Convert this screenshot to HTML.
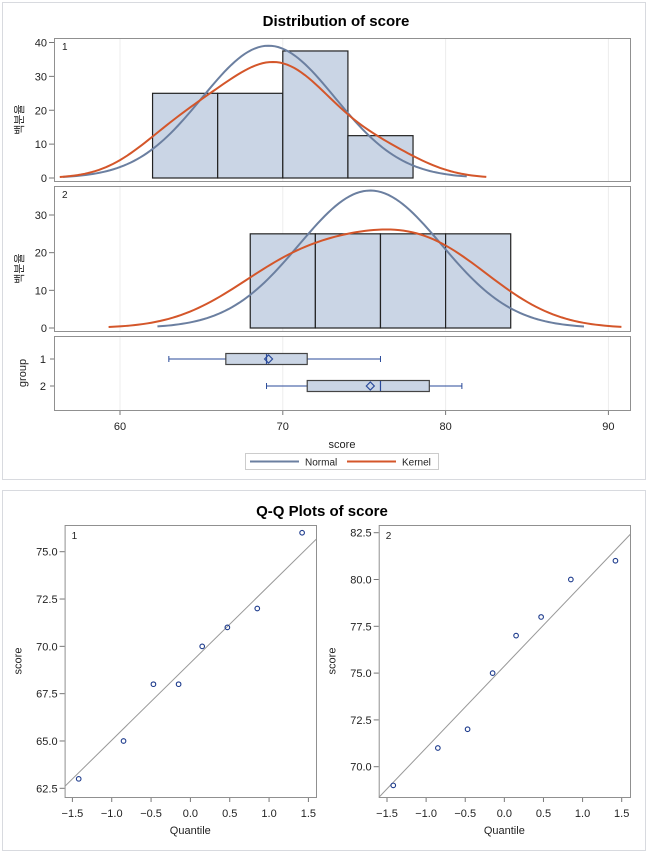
<!DOCTYPE html>
<html><head><meta charset="utf-8">
<style>
html,body{margin:0;padding:0;background:#fff;}
svg{display:block;font-family:"Liberation Sans","Noto Sans CJK KR",sans-serif;}
</style></head>
<body>
<svg id="chart" width="649" height="854" viewBox="0 0 649 854" xmlns="http://www.w3.org/2000/svg">
<rect x="2.5" y="2.5" width="643" height="477" fill="#fff" stroke="#d8dadf"/>
<rect x="2.5" y="490.5" width="643" height="360" fill="#fff" stroke="#d8dadf"/>
<text x="336" y="26" text-anchor="middle" font-size="15" font-weight="bold" fill="#000">Distribution of score</text>
<text x="322" y="516" text-anchor="middle" font-size="15" font-weight="bold" fill="#000">Q-Q Plots of score</text>
<g id="g"></g>
</svg>
<script>
const group1Scores = [63, 65, 68, 68, 70, 71, 72, 76];
const group2Scores = [69, 71, 72, 75, 77, 78, 80, 81];
const binEdges1 = [62, 66, 70, 74, 78];
const binPct1 = [25, 25, 37.5, 12.5];
const binEdges2 = [68, 72, 76, 80, 84];
const binPct2 = [25, 25, 25, 25];
const xTicks = [60, 70, 80, 90];
const yTicks1 = [0, 10, 20, 30, 40];
const yTicks2 = [0, 10, 20, 30];
const box1 = {min: 63, q1: 66.5, med: 69, q3: 71.5, max: 76, mean: 69.125};
const box2 = {min: 69, q1: 71.5, med: 76, q3: 79, max: 81, mean: 75.375};
const normalRange1 = [56.5, 81.3];
const kernelRange1 = [56.3, 82.5];
const normalRange2 = [62.3, 88.5];
const kernelRange2 = [59.3, 90.8];
const kernelBw = [2.6, 3.8];
const qqQuantiles = [-1.42, -0.85, -0.47, -0.15, 0.15, 0.47, 0.85, 1.42];
const qqTicksX = [-1.5, -1.0, -0.5, 0.0, 0.5, 1.0, 1.5];
const qqTicksY1 = [62.5, 65.0, 67.5, 70.0, 72.5, 75.0];
const qqTicksY2 = [70.0, 72.5, 75.0, 77.5, 80.0, 82.5];

const NS = "http://www.w3.org/2000/svg";
const root = document.getElementById('g');
function el(tag, attrs, parent, text){
  const e = document.createElementNS(NS, tag);
  for (const k in attrs) e.setAttribute(k, attrs[k]);
  if (text !== undefined) e.textContent = text;
  (parent || root).appendChild(e);
  return e;
}
const mean = a => a.reduce((s,v)=>s+v,0)/a.length;
const sd = a => { const m = mean(a); return Math.sqrt(a.reduce((s,v)=>s+(v-m)*(v-m),0)/(a.length-1)); };
const phi = z => Math.exp(-z*z/2)/Math.sqrt(2*Math.PI);

const X = v => 120 + (v-60)*(608.4-120)/30;
const PL = 54, PR = 630;

function histPanel(top, bot, y0, ymax, yTop, scores, edges, pct, yTicks, label, bw, nr, kr, idx){
  const Y = v => y0 - v*(y0-yTop)/ymax;
  const fr = el('rect',{x:PL+0.5,y:top+0.5,width:PR-PL,height:bot-top,fill:'#fff',stroke:'#909090'});
  
  
  xTicks.forEach(t=>{
    const l = el('line',{x1:X(t),x2:X(t),y1:top+1,y2:bot,stroke:'#ececec'});
    
    
  });
  for(let i=0;i<pct.length;i++){
    const r = el('rect',{x:X(edges[i]),y:Y(pct[i]),width:X(edges[i+1])-X(edges[i]),height:Y(0)-Y(pct[i]),fill:'#cad5e5',stroke:'#222',"stroke-width":1.2});
    
    
  }
  const m = mean(scores), s = sd(scores), w = edges[1]-edges[0];
  let d='';
  for(let i=0;i<=120;i++){ const x = nr[0]+(nr[1]-nr[0])*i/120; const v = 100*w*phi((x-m)/s)/s; d += (i?'L':'M')+X(x).toFixed(2)+','+Y(v).toFixed(2); }
  const pn = el('path',{d:d,fill:'none',stroke:'#6b7fa0',"stroke-width":2});
  
  
  d='';
  for(let i=0;i<=120;i++){ const x = kr[0]+(kr[1]-kr[0])*i/120; let v=0; scores.forEach(xi=>v+=phi((x-xi)/bw)/bw); v = 100*w*v/scores.length; d += (i?'L':'M')+X(x).toFixed(2)+','+Y(v).toFixed(2); }
  const pk = el('path',{d:d,fill:'none',stroke:'#d4562a',"stroke-width":2});
  
  
  yTicks.forEach(t=>{
    el('line',{x1:PL-5,x2:PL,y1:Y(t),y2:Y(t),stroke:'#777'});
    const tx = el('text',{x:PL-7,y:Y(t)+4,"text-anchor":"end","font-size":11,fill:'#222'},null,String(t));
    
    
  });
  const pl = el('text',{x:62,y:top+12,"font-size":10,fill:'#222'},null,label);
  
  
  const yc=(top+bot)/2+10;
  const yl = el('text',{x:0,y:0,transform:'translate(23,'+yc+') rotate(-90)',"text-anchor":"middle","font-size":11,fill:'#222'},null,'백분율');
  
  
}
histPanel(38,181,178,40,42.5,group1Scores,binEdges1,binPct1,yTicks1,'1',kernelBw[0],normalRange1,kernelRange1,1);
histPanel(186,331,328,30,215,group2Scores,binEdges2,binPct2,yTicks2,'2',kernelBw[1],normalRange2,kernelRange2,2);

const bf = el('rect',{x:PL+0.5,y:336.5,width:PR-PL,height:74,fill:'#fff',stroke:'#909090'});


xTicks.forEach(t=>{
  const l = el('line',{x1:X(t),x2:X(t),y1:337,y2:410,stroke:'#ececec'});
  
  
});
function boxPlot(b, yc, lab, idx){
  const c='#2a4a9a';
  el('line',{x1:X(b.min),x2:X(b.q1),y1:yc,y2:yc,stroke:c});
  el('line',{x1:X(b.q3),x2:X(b.max),y1:yc,y2:yc,stroke:c});
  el('line',{x1:X(b.min),x2:X(b.min),y1:yc-3,y2:yc+3,stroke:c});
  el('line',{x1:X(b.max),x2:X(b.max),y1:yc-3,y2:yc+3,stroke:c});
  const r = el('rect',{x:X(b.q1),y:yc-5.5,width:X(b.q3)-X(b.q1),height:11,fill:'#cad5e5',stroke:'#444',"stroke-width":1.2});
  
  
  el('line',{x1:X(b.med),x2:X(b.med),y1:yc-5,y2:yc+5,stroke:c,"stroke-width":1.2});
  const mx=X(b.mean);
  const dm = el('path',{d:`M${mx-4},${yc}L${mx},${yc-4}L${mx+4},${yc}L${mx},${yc+4}Z`,fill:'none',stroke:c,"stroke-width":1.2});
  
  
  el('line',{x1:PL-4,x2:PL,y1:yc,y2:yc,stroke:'#777'});
  el('text',{x:PL-8,y:yc+4,"text-anchor":"end","font-size":11,fill:'#222'},null,lab);
}
boxPlot(box1,359,'1',1);
boxPlot(box2,386,'2',2);
const gl = el('text',{x:0,y:0,transform:'translate(26,373) rotate(-90)',"text-anchor":"middle","font-size":11,fill:'#222'},null,'group');


xTicks.forEach(t=>{
  el('line',{x1:X(t),x2:X(t),y1:411,y2:415,stroke:'#777'});
  const tx = el('text',{x:X(t),y:430,"text-anchor":"middle","font-size":11,fill:'#222'},null,String(t));
  
  
});
const xt = el('text',{x:342,y:448,"text-anchor":"middle","font-size":11,fill:'#222'},null,'score');


const lg = el('g',{});


el('rect',{x:245.5,y:453.5,width:193,height:16,fill:'#fff',stroke:'#ccc'},lg);
el('line',{x1:250,x2:299,y1:461.5,y2:461.5,stroke:'#6b7fa0',"stroke-width":2},lg);
el('text',{x:305,y:465.5,"font-size":10,fill:'#222'},lg,'Normal');
el('line',{x1:347,x2:396,y1:461.5,y2:461.5,stroke:'#d4562a',"stroke-width":2},lg);
el('text',{x:402,y:465.5,"font-size":10,fill:'#222'},lg,'Kernel');

function qqPlot(L,R,T,B,xa,xb,ya,yaPix,yb,ybPix,scores,ticksY,lab,idx){
  const QX = q => xa + (q+1.5)*(xb-xa)/3;
  const QY = v => yaPix + (v-ya)*(ybPix-yaPix)/(yb-ya);
  const fr = el('rect',{x:L+0.5,y:T+0.5,width:R-L,height:B-T,fill:'#fff',stroke:'#909090'});
  
  
  const m=mean(scores), s=sd(scores);
  const cid='clip'+idx;
  const cp = el('clipPath',{id:cid}); el('rect',{x:L,y:T,width:R-L,height:B-T},cp);
  const qa=-1.7, qb=1.7;
  const rl = el('line',{x1:QX(qa),y1:QY(m+s*qa),x2:QX(qb),y2:QY(m+s*qb),stroke:'#999',"clip-path":'url(#'+cid+')'});
  
  
  scores.forEach((v,i)=>{
    const c = el('circle',{cx:QX(qqQuantiles[i]),cy:QY(v),r:2.3,fill:'none',stroke:'#1c3a8c',"stroke-width":1.1});
    
    
  });
  qqTicksX.forEach(t=>{
    el('line',{x1:QX(t),x2:QX(t),y1:B+1,y2:B+5,stroke:'#777'});
    const tx = el('text',{x:QX(t),y:B+20,"text-anchor":"middle","font-size":11,fill:'#222'},null,t.toFixed(1).replace('-','\u2212'));
    
    
  });
  ticksY.forEach(t=>{
    el('line',{x1:L-5,x2:L,y1:QY(t),y2:QY(t),stroke:'#777'});
    const tx = el('text',{x:L-7,y:QY(t)+4,"text-anchor":"end","font-size":11,fill:'#222'},null,t.toFixed(1));
    
    
  });
  el('text',{x:L+7,y:T+14,"font-size":10,fill:'#222'},null,lab);
  const xt = el('text',{x:(L+R)/2,y:B+37,"text-anchor":"middle","font-size":11,fill:'#222'},null,'Quantile');
  
  
  const yt = el('text',{x:0,y:0,transform:'translate('+(L-43)+','+((T+B)/2)+') rotate(-90)',"text-anchor":"middle","font-size":11,fill:'#222'},null,'score');
  
  
}
qqPlot(64.6,316,525,797,72.4,308.4,75,551.7,62.5,788.3,group1Scores,qqTicksY1,'1',1);
qqPlot(378.7,630,525,797,387,621.7,82.5,532.7,70,766.7,group2Scores,qqTicksY2,'2',2);
</script>
</body></html>
